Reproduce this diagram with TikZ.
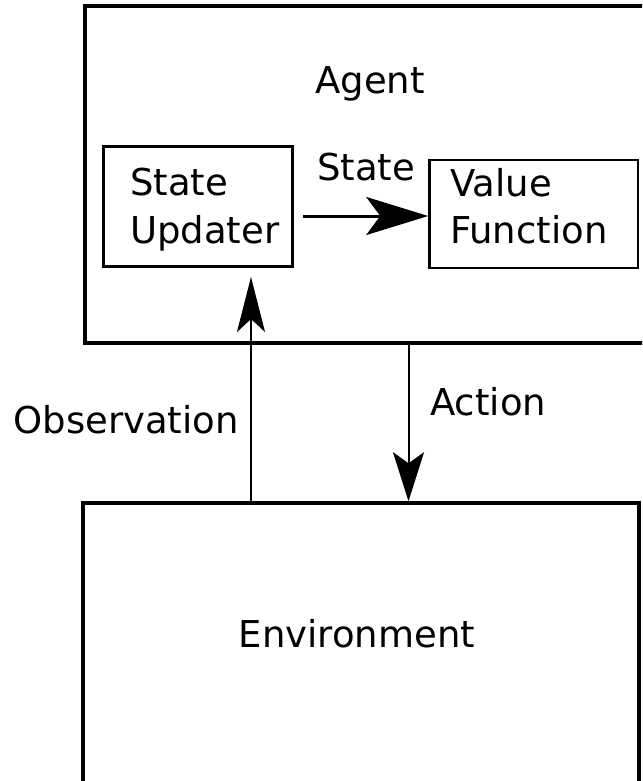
\documentclass[tikz,border=0pt]{standalone}
\usepackage{fontspec}
\setmainfont{DejaVu Sans}
\usetikzlibrary{arrows.meta}
\begin{document}
\begin{tikzpicture}[x=1pt,y=-1pt,
  box/.style={draw=black,rectangle,inner sep=0pt},
  lbl/.style={inner sep=0pt,font=\fontsize{37}{44}\selectfont},
  statearrow/.style={line width=3pt,-{Stealth[length=62pt,width=38pt,inset=14pt]}},
  obsarrow/.style={line width=2.5pt,-{Stealth[length=55pt,width=28pt,inset=13pt]}},
  actarrow/.style={line width=2pt,-{Stealth[length=49pt,width=31pt,inset=11pt]}}]
\useasboundingbox (0,0) rectangle (642,781);
\clip (0,0) rectangle (642,781);
\fill[white] (0,0) rectangle (642,781);
% boxes
\node[box,line width=3.5pt,minimum width=570pt,minimum height=337pt] (agent) at (370,174.5) {};
\node[box,line width=3pt,minimum width=189pt,minimum height=120pt] (su) at (197.5,206) {};
\node[box,line width=2.5pt,minimum width=208.5pt,minimum height=108pt] (vf) at (533.75,214) {};
\node[box,line width=3.5pt,minimum width=556pt,minimum height=300pt] (env) at (361,653) {};
% texts
\node[lbl,anchor=base] (agentlbl) at (370,94) {Agent};
\node[lbl,anchor=base west] (su1) at (130,195) {State};
\node[lbl,anchor=base west] (su2) at (130,243) {Updater};
\node[lbl,anchor=base west] (vf1) at (450,196) {Value};
\node[lbl,anchor=base west] (vf2) at (450,243) {Function};
\node[lbl,anchor=base] (envlbl) at (357,647) {Environment};
\node[lbl,anchor=base] (statelbl) at (366,180) {State};
\node[lbl,anchor=base east] (obslbl) at (239,433) {Observation};
\node[lbl,anchor=base west] (actlbl) at (430,415) {Action};
% connectors
\draw[statearrow] ([xshift=9pt,yshift=-10pt]su.east) -- ([yshift=-2pt]vf.west);
\coordinate (obsTop) at (251,277);
\draw[obsarrow] (obsTop |- env.north) -- (obsTop);
\coordinate (actX) at (408.5,0);
\draw[actarrow] (actX |- agent.south) -- (actX |- env.north);
\end{tikzpicture}
\end{document}
